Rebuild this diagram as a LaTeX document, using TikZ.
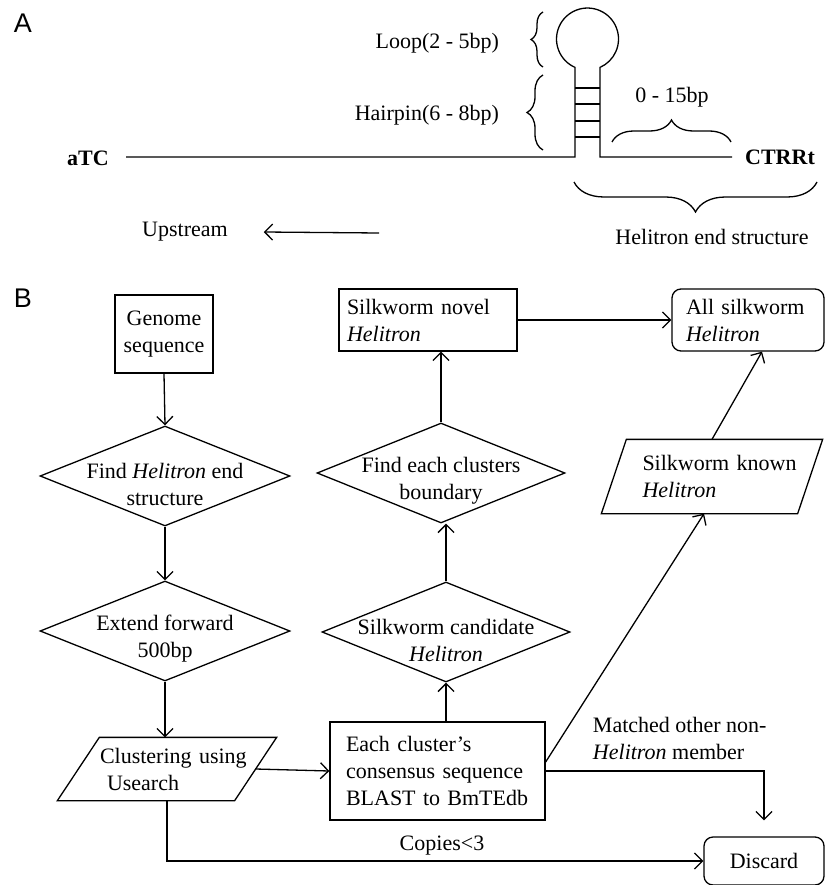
\documentclass[tikz,border=0pt]{standalone}
\usepackage{fontspec}
\setmainfont{Liberation Serif}
\newfontfamily\panelfont{Liberation Sans}
\usetikzlibrary{arrows.meta,shapes.geometric,decorations.pathreplacing,positioning}

\begin{document}
\begin{tikzpicture}[x=1pt, y=-1pt, line width=1.3pt,
  >={Straight Barb[length=8pt,width=16pt]},
  font=\fontsize{22}{27}\selectfont]

\tikzset{
  panel/.style={font=\panelfont\fontsize{27}{30}\selectfont},
  box/.style={draw, rectangle, inner ysep=0pt, align=left},
  decision/.style={draw, diamond, minimum width=#1, minimum height=100pt, inner sep=0pt},
  decision/.default=250pt,
  data/.style={rectangle, inner sep=0pt, align=left},
  inside/.style={align=center, yshift=-8pt},
  brc/.style={decorate, decoration={brace, amplitude=#1}}
}

\useasboundingbox (0,0) rectangle (826,885);

\node[panel] (panA) at (23,23) {A};
\node[panel] (panB) at (23,298) {B};

% hairpin end
\node (atc) at (88,158) {\textbf{aTC}};
\node (ctrrt) at (780,157) {\textbf{CTRRt}};
\draw (126,157) -- (575,157) -- (575,67.4) arc[start angle=246.2, end angle=-66.2, radius=31pt]
   -- (600,157) -- (732,157);
\foreach \y in {88,104,121,137}
  \draw (575,\y) -- (600,\y);

\draw[brc=12pt] (543,67) -- (543,12);
\draw[brc=16pt] (543,150) -- (543,75);
\draw[brc=22pt] (612,142) -- (731,142);
\draw[brc=30pt] (817,182) -- (574,182);

\node[anchor=east] (lbl-loop) at (503,43) {Loop(2 - 5bp)};
\node[anchor=east] (lbl-hairpin) at (503,115) {Hairpin(6 - 8bp)};
\node (lbl-gap) at (672,97) {0 - 15bp};
\node (lbl-end) at (712,237) {Helitron end structure};

\node (upstream) at (185,232) {Upstream};
\coordinate (uptail) at (379,233);
\draw[->] (uptail) -- ([xshift=32pt]upstream.east);

% pipeline
\node[box, align=center, text width=82pt, inner xsep=8pt, minimum height=78pt] (gen) at (164,334)
  {Genome\\sequence};
\node[decision, label={[inside]center:Find \textit{Helitron} end\\structure}] (findend) at (165,476) {};
\node[decision, label={[inside]center:Extend forward\\500bp}] (extend) at (165,631) {};
\node[data, minimum width=176pt, minimum height=62pt, text width=160pt, inner xsep=8pt] (clus) at (167,769)
  {\hspace{13pt}Clustering using\\\hspace{20pt}Usearch};
\draw ([xshift=21pt]clus.north west) -- ([xshift=21pt]clus.north east)
   -- ([xshift=-21pt]clus.south east) -- ([xshift=-21pt]clus.south west) -- cycle;
\node[box, text width=183pt, inner xsep=16pt, minimum height=98pt] (blast) at (437.5,771)
  {Each cluster's\\consensus sequence\\BLAST to BmTEdb};
\node[decision=248pt, label={[inside]center:Silkworm candidate\\\textit{Helitron}}] (cand) at (446,632) {};
\node[decision=248pt, label={[inside]center:Find each clusters\\boundary}] (bound) at (441,473) {};
\node[box, text width=162pt, inner xsep=8pt, minimum height=62pt] (novel) at (428,320)
  {Silkworm novel\\\textit{Helitron}};
\node[box, rounded corners=9pt, text width=124pt, inner xsep=14pt, minimum height=62pt] (allsk) at (748,320)
  {All silkworm\\\textit{Helitron}};
\node[data, minimum width=195pt, minimum height=73pt, text width=175pt, inner xsep=10pt] (known) at (712,476.5)
  {\hspace{18pt}Silkworm known\\\hspace{18pt}\textit{Helitron}};
\draw ([xshift=12.5pt]known.north west) -- ([xshift=12.5pt]known.north east)
   -- ([xshift=-12.5pt]known.south east) -- ([xshift=-12.5pt]known.south west) -- cycle;
\node[box, rounded corners=9pt, align=center, minimum width=120pt, minimum height=48pt] (discard) at (764,861)
  {Discard};

\node (copies) at (442,846) {Copies<3};
\node[anchor=west, align=left] (matched) at (589,738) {Matched other non-\\\textit{Helitron} member};

\draw[->] (gen.south) -- (findend.north);
\draw[->] (findend.south) -- (extend.north);
\draw[->] (extend.south) -- (extend.south |- clus.north);
\draw[->] (clus.east) -- (blast.west);
\draw[->] (cand.south |- blast.north) -- (cand.south);
\draw[->] (cand.north) -- (cand.north |- bound.south);
\draw[->] (bound.north) -- (bound.north |- novel.south);
\draw[->] (novel.east) -- (allsk.west);
\draw[->] (known.north) -- ([xshift=14pt]allsk.south);
\draw[->] ([yshift=9pt]blast.east) -- ([xshift=-8pt]known.south);
\draw[->] (blast.east) -| ([yshift=16pt]discard.north);
\draw[->] (clus.south) |- (discard.west);

\end{tikzpicture}
\end{document}
